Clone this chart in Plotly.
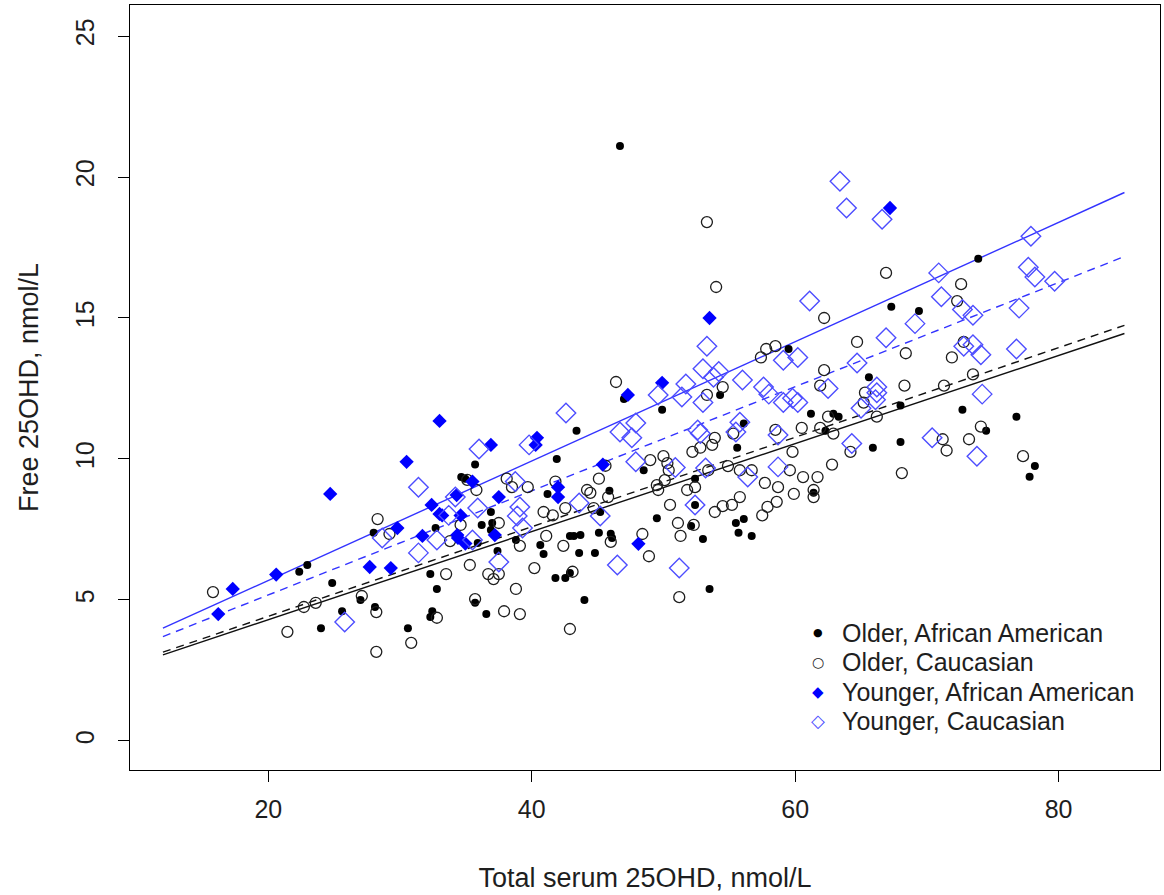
import plotly.graph_objects as go

# Older, African American (filled black dots)
oaa_x = [46.7, 67.3, 59.5, 65.6, 73.9, 69.4, 72.7, 76.8, 74.5, 78.2, 77.8, 68.0, 68.0, 54.3, 49.9,
         61.2, 62.9, 63.3, 62.3, 65.9, 56.1, 55.6, 52.4, 61.4, 52.4, 52.1, 53.0, 55.5, 56.1, 55.7,
         56.7, 49.5, 47.0, 43.4, 35.7, 41.9, 48.5, 34.65, 34.95, 41.2, 45.9, 45.2, 36.9, 32.7, 36.2,
         37.0, 36.9, 42.9, 43.2, 43.7, 45.1, 46.0, 46.1, 35.9, 38.8, 40.65, 40.9, 43.6, 44.8, 37.4,
         32.3, 41.8, 42.55, 42.9, 32.8, 35.7, 44.0, 32.45, 32.3, 36.55, 30.6, 53.5, 22.35, 22.96,
         24.85, 27.0, 28.1, 25.6, 24.0, 28.0]
oaa_y = [21.1, 15.4, 13.9, 12.9, 17.1, 15.25, 11.75, 11.5, 11.0, 9.75, 9.37, 10.6, 11.9, 12.27, 11.75,
         11.6, 11.6, 11.5, 11.0, 10.4, 11.26, 10.4, 9.3, 8.8, 8.37, 7.62, 7.16, 7.73, 7.87, 7.38,
         7.27, 7.9, 12.13, 11.0, 9.8, 10.0, 9.6, 9.36, 9.3, 8.76, 8.87, 8.12, 8.12, 7.55, 7.66,
         7.73, 7.48, 7.27, 7.27, 7.3, 7.38, 7.35, 7.2, 7.02, 7.13, 6.95, 6.63, 6.67, 6.67, 6.74,
         5.92, 5.78, 5.78, 5.96, 5.39, 4.9, 5.0, 4.6, 4.4, 4.5, 4.0, 5.39, 6.0, 6.24,
         5.6, 5.0, 4.75, 4.6, 4.0, 7.38]

# Older, Caucasian (open black circles)
oc_x = [53.3, 54.0, 66.9, 62.2, 64.7, 57.4, 57.8, 58.5, 62.2, 61.9, 54.5, 72.6, 72.3, 68.4, 72.8,
        71.9, 73.5, 71.3, 68.3, 74.1, 71.2, 73.2, 71.5, 77.3, 68.1, 53.3, 65.3, 65.2, 66.2, 62.5,
        62.9, 61.9, 64.2, 62.8, 55.3, 58.5, 60.5, 59.8, 53.9, 53.7, 52.8, 52.2, 49.0, 50.0, 50.4,
        50.3, 53.4, 54.9, 55.8, 56.7, 59.6, 60.6, 61.7, 50.1, 49.5, 49.6, 51.8, 52.4, 57.7, 58.7,
        61.4, 61.4, 59.9, 55.8, 55.2, 54.5, 53.9, 58.6, 57.9, 57.5, 50.5, 51.1, 52.3, 51.3, 48.9,
        46.4, 45.6, 35.1, 35.8, 38.1, 38.5, 39.7, 41.8, 45.1, 44.2, 44.45, 45.8, 44.7, 42.55, 41.6,
        40.9, 34.6, 37.5, 41.1, 46.0, 48.4, 33.8, 39.1, 42.4, 35.3, 40.2, 33.5, 36.7, 37.5, 37.1,
        43.1, 38.8, 35.7, 32.8, 37.9, 39.1, 42.9, 30.85, 51.2, 15.8, 27.1, 28.2, 22.7, 23.6, 21.45,
        28.2, 28.3, 29.2]
oc_y = [18.4, 16.1, 16.6, 15.0, 14.15, 13.6, 13.9, 14.0, 13.15, 12.6, 12.55, 16.2, 15.6, 13.75, 14.15,
        13.6, 13.0, 12.6, 12.6, 11.15, 10.7, 10.7, 10.3, 10.1, 9.5, 12.27, 12.35, 12.0, 11.5, 11.5,
        10.9, 11.1, 10.25, 9.8, 10.9, 11.03, 11.1, 10.25, 10.75, 10.5, 10.4, 10.25, 9.96, 10.1, 9.6,
        9.85, 9.6, 9.75, 9.6, 9.6, 9.6, 9.36, 9.36, 9.25, 9.07, 8.9, 8.9, 9.0, 9.15, 9.0,
        8.9, 8.65, 8.76, 8.65, 8.37, 8.33, 8.12, 8.48, 8.3, 8.0, 8.37, 7.73, 7.66, 7.27, 6.55,
        12.73, 9.76, 9.26, 8.9, 9.3, 9.0, 9.0, 9.2, 9.3, 8.9, 8.8, 8.65, 8.26, 8.26, 8.0,
        8.12, 7.66, 7.73, 7.27, 7.06, 7.34, 7.09, 6.92, 6.92, 6.24, 6.13, 5.92, 5.92, 5.92, 5.74,
        6.0, 5.39, 5.03, 4.37, 4.6, 4.5, 3.97, 3.48, 5.1, 5.28, 5.14, 4.57, 4.75, 4.9, 3.87,
        3.16, 7.87, 7.34]

# Younger, African American (filled blue diamonds)
yaa_x = [53.5, 67.2, 49.9, 47.3, 33.0, 40.4, 40.3, 36.9, 30.5, 45.4, 35.5, 42.0, 42.0, 37.5, 34.3,
         32.4, 33.0, 33.2, 34.6, 48.1, 31.7, 34.35, 34.4, 34.96, 37.2, 17.3, 16.2, 20.6, 27.7, 29.3,
         24.7, 29.8]
yaa_y = [15.0, 18.9, 12.7, 12.27, 11.35, 10.75, 10.5, 10.5, 9.9, 9.8, 9.2, 9.0, 8.65, 8.65, 8.72,
         8.37, 8.05, 8.0, 8.0, 6.99, 7.27, 7.3, 7.2, 7.0, 7.3, 5.39, 4.5, 5.9, 6.17, 6.13,
         8.76, 7.55]

# Younger, Caucasian (open blue diamonds)
yc_x = [63.4, 63.9, 66.6, 61.1, 66.9, 53.3, 59.1, 60.2, 53.0, 54.2, 53.8, 56.0, 51.7, 64.7, 66.2,
        57.6, 77.9, 70.9, 77.7, 78.2, 79.7, 71.1, 72.7, 73.5, 77.0, 69.1, 72.8, 73.5, 74.1, 76.8,
        74.2, 70.4, 73.8, 49.6, 51.4, 58.0, 53.0, 59.1, 59.8, 60.2, 62.5, 66.2, 66.1, 65.0, 64.3,
        55.8, 55.5, 58.7, 52.6, 52.8, 50.9, 53.2, 56.4, 58.7, 52.4, 42.6, 46.7, 47.9, 47.6, 39.8,
        36.0, 47.9, 31.4, 38.75, 43.6, 45.2, 39.1, 38.9, 35.9, 34.2, 33.7, 39.3, 32.8, 35.5, 31.4,
        37.5, 46.5, 51.2, 25.8, 28.65]
yc_y = [19.85, 18.9, 18.5, 15.6, 14.3, 14.0, 13.5, 13.6, 13.2, 13.1, 12.9, 12.8, 12.66, 13.4, 12.55,
        12.55, 17.9, 16.6, 16.8, 16.45, 16.3, 15.75, 15.3, 15.1, 15.35, 14.8, 14.0, 14.05, 13.7, 13.9,
        12.3, 10.75, 10.1, 12.27, 12.2, 12.3, 12.0, 12.0, 12.15, 12.0, 12.5, 12.35, 12.1, 11.8, 10.55,
        11.3, 10.96, 10.85, 11.03, 10.9, 9.7, 9.68, 9.36, 9.72, 8.37, 11.63, 10.96, 11.28, 10.75, 10.5,
        10.35, 9.9, 9.0, 9.2, 8.44, 7.98, 8.3, 7.98, 8.26, 8.65, 8.0, 7.55, 7.13, 7.13, 6.67,
        6.35, 6.24, 6.13, 4.22, 7.2]

# Fitted regression lines (endpoints)
fit_x = [12, 85]
fit_yc_solid = [4.0, 19.45]
fit_yc_dash = [3.7, 17.18]
fit_oc_dash = [3.15, 14.74]
fit_oaa_solid = [3.05, 14.45]

labels = ["Older, African American", "Older, Caucasian",
          "Younger, African American", "Younger, Caucasian"]
legend_glyphs = ["\u25CF", "\u25CB", "\u25C6", "\u25C7"]

BLUE = "#0000ff"
LBLUE = "#4d4dff"
FONT = "Liberation Sans, Arial, sans-serif"
TXT = "#1e1e1e"

fig = go.Figure()

for ys, col, dash in [(fit_yc_solid, "#3333ff", "solid"), (fit_yc_dash, "#3333ff", "8px,6px"),
                      (fit_oc_dash, "#111111", "8px,6px"), (fit_oaa_solid, "#111111", "solid")]:
    fig.add_trace(go.Scatter(x=fit_x, y=ys, mode="lines", showlegend=False,
                             line=dict(color=col, width=1.4, dash=dash), hoverinfo="skip"))

fig.add_trace(go.Scatter(x=oaa_x, y=oaa_y, mode="markers", name=labels[0], showlegend=False,
                         marker=dict(symbol="circle", size=8, color="black")))
fig.add_trace(go.Scatter(x=oc_x, y=oc_y, mode="markers", name=labels[1], showlegend=False,
                         marker=dict(symbol="circle-open", size=11, color=TXT,
                                     line=dict(width=1.3))))
fig.add_trace(go.Scatter(x=yaa_x, y=yaa_y, mode="markers", name=labels[2], showlegend=False,
                         marker=dict(symbol="diamond", size=11, color=BLUE)))
fig.add_trace(go.Scatter(x=yc_x, y=yc_y, mode="markers", name=labels[3], showlegend=False,
                         marker=dict(symbol="diamond-open", size=15, color=LBLUE,
                                     line=dict(width=1.4))))

# Legend drawn as text (glyph + label), rows evenly spaced
row_y = [0.1791, 0.1412, 0.1020, 0.0641]
glyph_col = ["black", TXT, BLUE, LBLUE]
glyph_size = [11, 14, 15, 18]
for lab, g, yy, gc, gs in zip(labels, legend_glyphs, row_y, glyph_col, glyph_size):
    fig.add_annotation(x=0.6893, y=yy, xref="paper", yref="paper", text=lab,
                       showarrow=False, xanchor="left", yanchor="middle",
                       font=dict(family=FONT, size=25, color=TXT))
    fig.add_annotation(x=0.668, y=yy, xref="paper", yref="paper", text=g,
                       showarrow=False, xanchor="center", yanchor="middle",
                       font=dict(family="DejaVu Sans", size=gs, color=gc))

axis_common = dict(showgrid=False, zeroline=False, showline=True, mirror=True,
                   linecolor="black", linewidth=1.3, ticks="outside", ticklen=11,
                   tickwidth=1.3, tickcolor="black", automargin=False,
                   tickfont=dict(family=FONT, size=25, color=TXT))

fig.update_layout(
    width=1164, height=895,
    margin=dict(l=130, r=4, t=5, b=125),
    paper_bgcolor="white", plot_bgcolor="white",
    font=dict(family=FONT, size=25, color=TXT),
    showlegend=False,
    xaxis=dict(range=[9.5, 87.7], tickvals=[20, 40, 60, 80], ticklabelstandoff=6,
               title=dict(text="Total serum 25OHD, nmol/L", standoff=45,
                          font=dict(family=FONT, size=27, color=TXT)),
               **axis_common),
    yaxis=dict(range=[-1.03, 26.1], tickvals=[0, 5, 10, 15, 20, 25], tickangle=-90,
               ticklabelstandoff=14,
               title=dict(text="Free 25OHD, nmol/L", standoff=24,
                          font=dict(family=FONT, size=27, color=TXT)),
               **axis_common),
)

fig.write_html("out.html", config={"displayModeBar": False},
               post_script="document.body.style.margin='0px';")
